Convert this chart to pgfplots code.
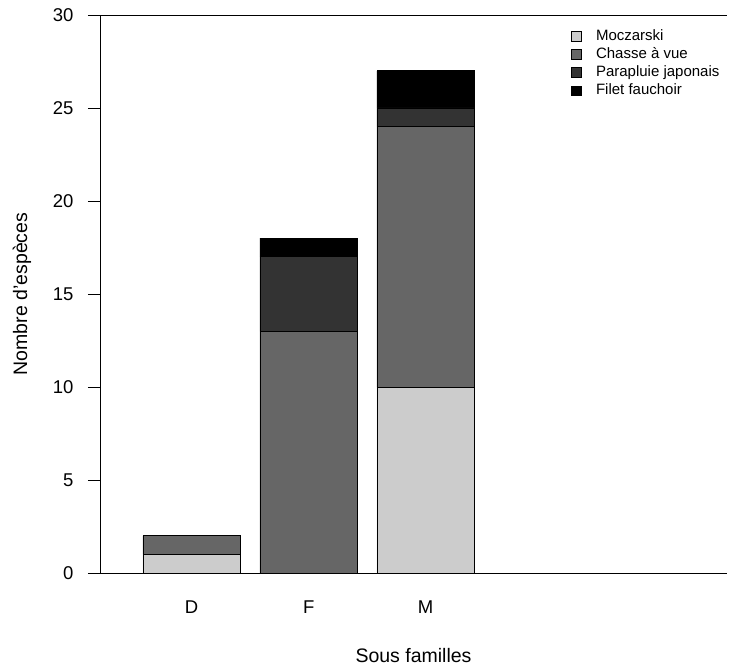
\documentclass[border=0pt]{standalone}
\usepackage{fontspec}
\setmainfont{Liberation Sans}
\usepackage{pgfplots}
\pgfplotsset{compat=1.18}
\definecolor{cMoc}{HTML}{CCCCCC}
\definecolor{cCha}{HTML}{666666}
\definecolor{cPar}{HTML}{333333}
\definecolor{cFil}{HTML}{000000}
\begin{document}
\begin{tikzpicture}
\begin{axis}[
  scale only axis,
  width=627pt, height=558pt,
  xmin=-0.24, xmax=6.19,
  ymin=0, ymax=30,
  axis lines=left,
  axis line style={-, line width=0.8pt, black},
  ybar stacked,
  bar width=97.5pt,
  xtick={0.7,1.9,3.1},
  xticklabels={D,F,M},
  x tick style={draw=none},
  xticklabel style={yshift=-12pt},
  ytick={0,5,10,15,20,25,30},
  tick align=outside,
  major tick length=12pt,
  y tick style={line width=0.8pt, black},
  yticklabel style={anchor=east, xshift=-11pt},
  /pgf/number format/assume math mode=true,
  tick label style={font=\fontsize{18.5}{21}\selectfont},
  label style={font=\fontsize{19.5}{22}\selectfont},
  xlabel={Sous familles},
  xlabel style={at={(axis description cs:0.5,0)}, anchor=base, yshift=-89pt},
  ylabel={Nombre d'espèces},
  ylabel style={at={(axis description cs:-0.1164,0.5)}, anchor=base},
  legend style={draw=none, fill=none, at={(axis description cs:0.7514,0.978)}, anchor=north west,
    font=\fontsize{15}{17}\selectfont, inner sep=0pt, row sep=0pt,
    nodes={text height=10.5pt, text depth=3pt, inner ysep=2.3pt, inner xsep=4pt}},
  legend cell align=left,
  legend image code/.code={\draw[#1, draw=black, line width=0.6pt] (0pt,-4.5pt) rectangle (10pt,5pt); \path (20pt,0pt);},
  every axis plot/.append style={draw=black, line width=0.8pt},
  clip=false,
]
\addplot[fill=cMoc] coordinates {(0.7,1) (1.9,0) (3.1,10)};
\addplot[fill=cCha] coordinates {(0.7,1) (1.9,13) (3.1,14)};
\addplot[fill=cPar] coordinates {(0.7,0) (1.9,4) (3.1,1)};
\addplot[fill=cFil] coordinates {(0.7,0) (1.9,1) (3.1,2)};
\legend{Moczarski, Chasse à vue, Parapluie japonais, Filet fauchoir}
\draw[black, line width=0.8pt] (rel axis cs:0,1) -- (rel axis cs:1,1);
\end{axis}
\path (current axis.south west) ++(-100pt,-93pt) coordinate (bl);
\path (current axis.north east) ++(2pt,15pt) coordinate (tr);
\pgfresetboundingbox
\useasboundingbox (bl) rectangle (tr);
\end{tikzpicture}
\end{document}
